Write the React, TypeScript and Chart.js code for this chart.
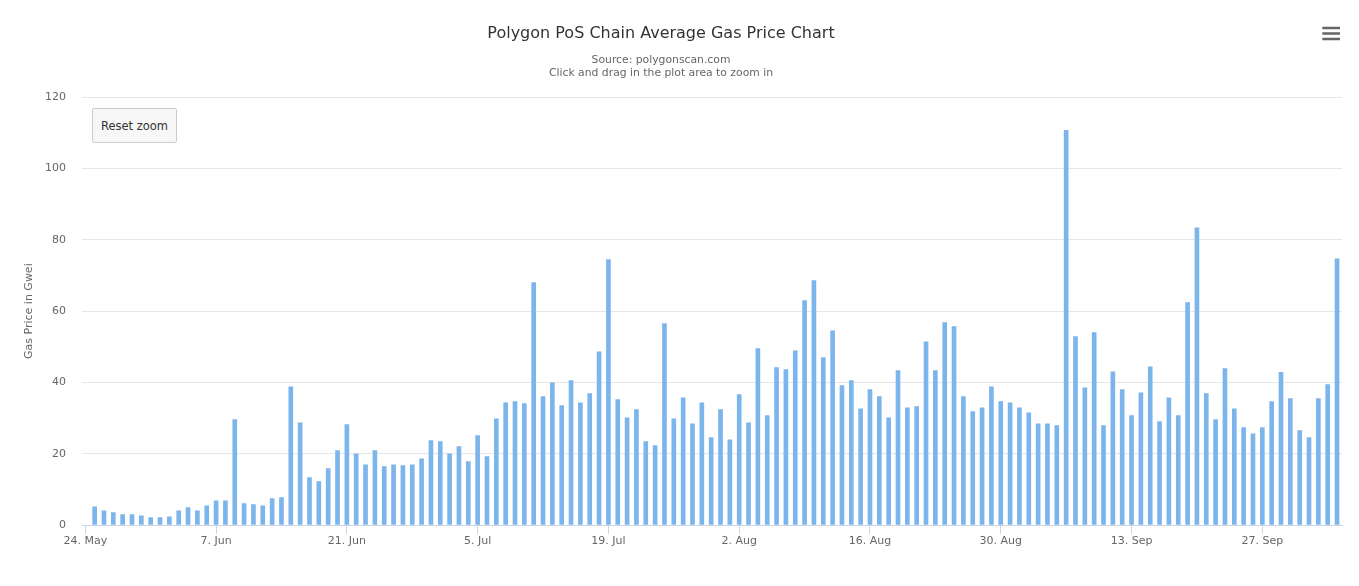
import React, { useEffect, useRef } from 'react';
import { Chart, registerables } from 'chart.js';

Chart.register(...registerables);

// Daily average gas price (Gwei), one value per day from 25 May to 5 Oct
const gasPrices: number[] = [
  5.1, 4.0, 3.5, 2.9, 2.9, 2.6, 2.1, 2.1, 2.3, 4.0,
  4.9, 4.0, 5.4, 6.8, 6.8, 29.6, 6.0, 5.7, 5.4, 7.4,
  7.7, 38.8, 28.7, 13.3, 12.2, 15.8, 20.9, 28.2, 20.0, 16.9,
  20.9, 16.4, 16.9, 16.7, 16.9, 18.6, 23.7, 23.4, 20.0, 22.0,
  17.8, 25.1, 19.2, 29.8, 34.3, 34.6, 34.1, 68.0, 36.0, 39.9,
  33.5, 40.5, 34.3, 36.9, 48.6, 74.5, 35.2, 30.1, 32.4, 23.4,
  22.3, 56.5, 29.8, 35.7, 28.4, 34.3, 24.5, 32.4, 23.9, 36.6,
  28.7, 49.5, 30.7, 44.2, 43.6, 48.9, 63.0, 68.6, 47.0, 54.5,
  39.1, 40.5, 32.6, 38.0, 36.0, 30.1, 43.3, 32.9, 33.2, 51.4,
  43.3, 56.8, 55.7, 36.0, 31.8, 32.9, 38.8, 34.6, 34.3, 32.9,
  31.5, 28.4, 28.4, 27.9, 110.7, 52.9, 38.5, 54.0, 27.9, 43.0,
  38.0, 30.7, 37.1, 44.4, 29.0, 35.7, 30.7, 62.4, 83.4, 36.9,
  29.6, 43.9, 32.6, 27.3, 25.6, 27.3, 34.6, 42.8, 35.5, 26.5,
  24.5, 35.5, 39.4, 74.7,
];

// Day numbers counted from 24 May (day 0); the first bar is day 1
const firstBarDay = 1;
const tickDays: number[] = [0, 14, 28, 42, 56, 70, 84, 98, 112, 126];
const tickLabels: string[] = [
  '24. May', '7. Jun', '21. Jun', '5. Jul', '19. Jul',
  '2. Aug', '16. Aug', '30. Aug', '13. Sep', '27. Sep',
];
const yTickValues: number[] = [0, 20, 40, 60, 80, 100, 120];

const chartTitle = 'Polygon PoS Chain Average Gas Price Chart';
const subtitleLines: string[] = ['Source: polygonscan.com', 'Click and drag in the plot area to zoom in'];
const yAxisTitle = 'Gas Price in Gwei';
const resetLabel = 'Reset zoom';

const FONT = '"DejaVu Sans", sans-serif';

export default function App() {
  const canvasRef = useRef<HTMLCanvasElement | null>(null);

  useEffect(() => {
    document.body.style.margin = '0';
    const canvas = canvasRef.current;
    if (!canvas) return;

    const points = gasPrices.map((v, i) => ({ x: i + firstBarDay, y: v }));

    const chart = new Chart(canvas, {
      type: 'bar',
      data: {
        datasets: [
          {
            data: points as any,
            backgroundColor: '#7cb5ec',
            borderWidth: 0,
            barThickness: 4,
          },
        ],
      },
      options: {
        responsive: false,
        animation: false,
        events: [],
        layout: { padding: { left: 0, right: 17, top: 97.3, bottom: 0 } },
        plugins: {
          legend: { display: false },
          tooltip: { enabled: false },
          title: { display: false },
          subtitle: { display: false },
        },
        scales: {
          x: {
            type: 'linear',
            min: -0.353,
            max: 134.53,
            offset: false,
            grid: {
              display: true,
              offset: false,
              drawOnChartArea: false,
              drawTicks: true,
              tickLength: 9,
              color: '#ccd6eb',
            },
            border: { display: true, color: '#ccd6eb', width: 1 },
            ticks: {
              padding: 1,
              color: '#666666',
              font: { family: FONT, size: 11 },
              maxRotation: 0,
              autoSkip: false,
              callback: (value: any) => {
                const idx = tickDays.indexOf(Number(value));
                return idx >= 0 ? tickLabels[idx] : '';
              },
            },
            afterBuildTicks: (scale: any) => {
              scale.ticks = tickDays.map((v) => ({ value: v }));
            },
            afterFit: (scale: any) => {
              scale.height = 61;
            },
          } as any,
          y: {
            min: 0,
            max: 120,
            grid: { color: '#e6e6e6', drawTicks: false },
            border: { display: false },
            ticks: {
              padding: 16,
              color: '#666666',
              font: { family: FONT, size: 11 },
            },
            afterBuildTicks: (scale: any) => {
              scale.ticks = yTickValues.map((v) => ({ value: v }));
            },
            title: {
              display: true,
              text: yAxisTitle,
              color: '#666666',
              font: { family: FONT, size: 11 },
              padding: { top: 23, bottom: 0 },
            },
            afterFit: (scale: any) => {
              scale.width = 82;
            },
          } as any,
        },
      },
    });

    return () => chart.destroy();
  }, []);

  return (
    <div style={{ position: 'absolute', left: 0, top: 0, width: 1359, height: 586, background: '#ffffff' }}>
      <canvas ref={canvasRef} width={1359} height={586} style={{ display: 'block' }} />
      <div
        style={{
          position: 'absolute',
          left: 0,
          top: 22.8,
          width: 1322,
          textAlign: 'center',
          fontFamily: FONT,
          fontSize: 16,
          lineHeight: '20px',
          color: '#333333',
          whiteSpace: 'nowrap',
        }}
      >
        {chartTitle}
      </div>
      <div
        style={{
          position: 'absolute',
          left: 0,
          top: 52.7,
          width: 1322,
          textAlign: 'center',
          fontFamily: FONT,
          fontSize: 10.8,
          lineHeight: '13.6px',
          color: '#666666',
          whiteSpace: 'nowrap',
        }}
      >
        {subtitleLines.map((line) => (
          <div key={line}>{line}</div>
        ))}
      </div>
      <div
        style={{
          position: 'absolute',
          left: 92,
          top: 108,
          width: 85,
          height: 35,
          boxSizing: 'border-box',
          background: '#f7f7f7',
          border: '1px solid #cccccc',
          borderRadius: 2,
          fontFamily: FONT,
          fontSize: 11.5,
          color: '#333333',
          display: 'flex',
          alignItems: 'center',
          justifyContent: 'center',
        }}
      >
        {resetLabel}
      </div>
      <svg
        style={{ position: 'absolute', left: 1316, top: 20, width: 30, height: 24 }}
        width={30}
        height={24}
      >
        <path d="M 6.3 8 L 24 8 M 6.3 13.5 L 24 13.5 M 6.3 19 L 24 19" stroke="#666666" strokeWidth={2.6} />
      </svg>
    </div>
  );
}
